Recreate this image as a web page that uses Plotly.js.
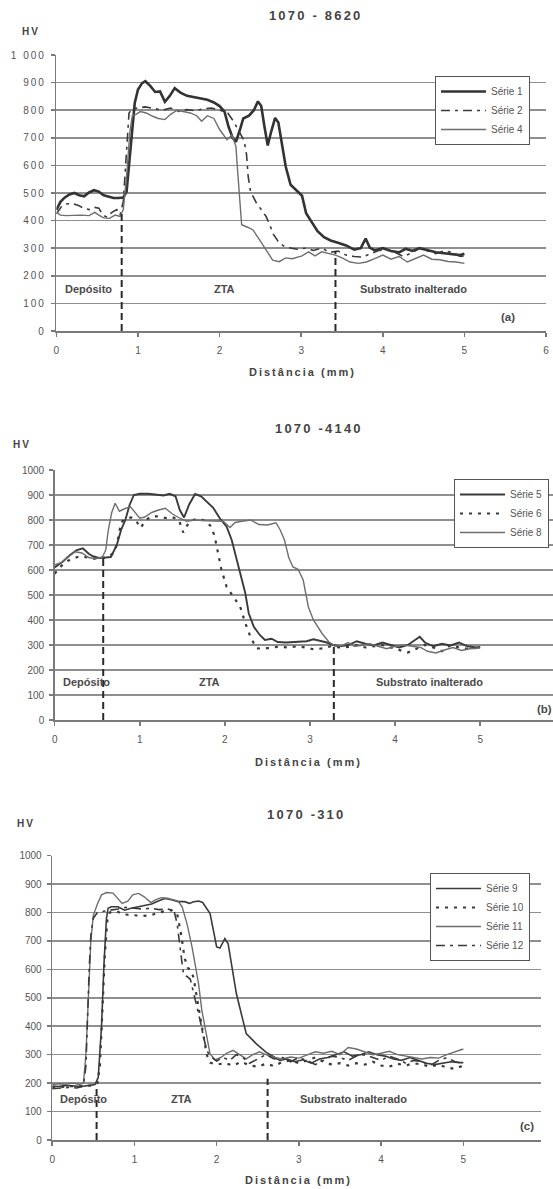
<!DOCTYPE html>
<html><head><meta charset="utf-8">
<script src="https://cdn.plot.ly/plotly-3.0.1.min.js"></script>
<style>
html,body{margin:0;padding:0;overflow:hidden;background:#fff;}
#chart{width:566px;height:1189px;}
.ytick text{letter-spacing:2px;}
</style></head><body><div id="chart"></div>
<script>
// ---------- (a) 1070 - 8620 ----------
const s1x = [0,0.05,0.1,0.16,0.22, 0.28,0.34,0.4,0.46,0.52, 0.58,0.64,0.7,0.76,0.82, 0.86,0.89,0.92,0.96,1.0, 1.05,1.09,1.15,1.21,1.27, 1.33,1.39,1.45,1.52,1.6, 1.68,1.76,1.85,1.93,2.0, 2.06,2.11,2.16,2.2,2.25, 2.29,2.36,2.42,2.47,2.51, 2.55,2.59,2.63,2.68,2.72, 2.77,2.81,2.87,2.95,3.01, 3.06,3.13,3.2,3.28,3.36, 3.45,3.55,3.65,3.73,3.79, 3.84,3.9,4.0,4.1,4.2, 4.28,4.36,4.45,4.55,4.65, 4.75,4.85,4.95,5.0];
const s1y = [439,468,483,495,500, 492,488,502,510,505, 492,486,482,482,484, 505,600,720,826,875, 898,905,888,866,868, 830,852,880,864,852, 848,842,838,828,815, 795,740,700,685,730, 770,780,800,832,815, 740,672,720,772,755, 660,596,530,505,490, 427,395,362,340,328, 320,310,295,300,335, 302,292,300,290,285, 298,290,300,292,285, 282,278,275,280];
const s2x = [0,0.06,0.12,0.2,0.27, 0.33,0.4,0.47,0.52,0.57, 0.62,0.68,0.74,0.78,0.82, 0.86,0.89,0.93,1.0,1.09, 1.2,1.3,1.4,1.5,1.6, 1.7,1.8,1.9,2.0,2.1, 2.17,2.24,2.3,2.33,2.35, 2.38,2.45,2.51,2.57,2.62, 2.66,2.73,2.8,2.88,2.95, 3.05,3.15,3.25,3.35,3.45, 3.55,3.65,3.75,3.85,3.95, 4.05,4.15,4.25,4.35,4.45, 4.55,4.65,4.75,4.85,4.95, 5.0];
const s2y = [425,450,460,462,455, 445,440,448,445,420, 412,430,440,420,470, 640,790,805,808,812, 806,800,808,796,802, 798,805,808,800,790, 760,720,690,640,560, 505,464,440,415,380, 350,319,305,300,296, 300,292,300,285,290, 275,270,268,280,292, 295,285,270,282,300, 290,280,290,285,270, 272];
const s4x = [0,0.05,0.12,0.2,0.3, 0.4,0.47,0.52,0.58,0.65, 0.72,0.78,0.82,0.86,0.9, 0.93,0.97,1.03,1.1,1.18, 1.25,1.33,1.4,1.48,1.56, 1.64,1.72,1.78,1.85,1.93, 2.0,2.09,2.15,2.2,2.22, 2.25,2.27,2.35,2.41,2.49, 2.57,2.65,2.73,2.81,2.89, 3.01,3.09,3.17,3.25,3.33, 3.42,3.5,3.6,3.7,3.8, 3.9,4.0,4.1,4.2,4.3, 4.4,4.5,4.6,4.7,4.8, 4.9,5.0];
const s4y = [430,420,418,420,420, 418,430,420,410,408, 420,415,440,560,720, 780,784,795,790,778, 770,766,785,800,795, 790,780,760,780,770, 730,693,710,669,584, 463,385,375,366,330, 293,257,251,265,262, 272,287,272,287,282, 275,265,250,245,250, 262,275,260,270,250, 262,275,260,258,252, 250,245];

// ---------- (b) 1070 - 4140 ----------
const s5x = [0,0.1,0.18,0.26,0.33, 0.4,0.45,0.52,0.6,0.66, 0.73,0.78,0.83,0.88,0.93, 1.0,1.1,1.2,1.28,1.35, 1.42,1.47,1.52,1.58,1.65, 1.72,1.8,1.86,1.94,2.02, 2.08,2.14,2.19,2.24,2.28, 2.34,2.41,2.47,2.55,2.62, 2.72,2.85,2.96,3.04,3.12, 3.2,3.27,3.35,3.45,3.55, 3.65,3.75,3.85,3.95,4.05, 4.15,4.22,4.29,4.35,4.45, 4.55,4.65,4.75,4.85,4.95, 5.0];
const s5y = [610,635,660,680,687, 665,655,648,650,652, 700,760,800,860,900, 905,905,900,898,905, 895,840,810,862,904, 895,870,850,807,773, 720,640,573,507,427, 373,340,320,325,312, 310,312,315,323,318, 310,300,295,300,315, 305,298,310,300,290, 300,315,333,310,295, 305,298,310,295,290, 292];
const s6x = [0,0.06,0.12,0.2,0.3, 0.38,0.46,0.55,0.62,0.68, 0.73,0.78,0.83,0.9,0.96, 1.01,1.06,1.12,1.2,1.3, 1.38,1.46,1.51,1.56,1.62, 1.7,1.78,1.84,1.88,1.92, 1.96,2.02,2.1,2.18,2.24, 2.3,2.37,2.45,2.55,2.65, 2.75,2.85,2.95,3.05,3.15, 3.25,3.35,3.45,3.55,3.65, 3.75,3.85,3.95,4.05,4.15, 4.25,4.35,4.45,4.55,4.65, 4.75,4.85,5.0];
const s6y = [585,610,630,645,655, 650,645,648,650,665, 700,790,805,810,795, 768,795,812,815,808, 812,800,750,780,800, 805,795,773,733,667, 600,533,493,453,387, 333,287,285,290,293, 290,295,290,282,287, 295,290,292,300,290, 295,300,290,280,270, 285,300,290,275,300, 290,285,290];
const s8x = [0,0.08,0.15,0.24,0.32, 0.4,0.48,0.56,0.6,0.63, 0.67,0.71,0.76,0.82,0.89, 0.95,1.0,1.06,1.14,1.22, 1.3,1.38,1.47,1.55,1.65, 1.79,1.9,1.98,2.06,2.12, 2.2,2.3,2.4,2.5,2.6, 2.65,2.7,2.75,2.8,2.86, 2.92,2.98,3.04,3.14,3.22, 3.3,3.38,3.45,3.52,3.6, 3.7,3.8,3.9,4.0,4.1, 4.2,4.3,4.38,4.48,4.58, 4.68,4.78,4.88,5.0];
const s8y = [620,630,650,673,668, 650,645,652,680,760, 830,867,835,845,853, 830,807,812,830,840, 847,825,807,795,800, 797,797,795,770,790, 795,800,782,780,789, 760,720,650,612,603, 560,453,400,347,313, 295,298,310,295,298, 305,295,285,295,300, 295,290,275,268,280, 290,278,285,288];

// ---------- (c) 1070 - 310 ----------
const s9x = [0,0.08,0.16,0.25,0.35, 0.45,0.52,0.56,0.6,0.63, 0.66,0.68,0.72,0.8,0.88, 0.96,1.05,1.13,1.21,1.29, 1.37,1.45,1.53,1.61,1.67, 1.72,1.78,1.83,1.88,1.92, 1.96,2.0,2.04,2.1,2.14, 2.18,2.24,2.3,2.36,2.48, 2.6,2.7,2.77,2.85,2.95, 3.05,3.15,3.25,3.35,3.45, 3.55,3.65,3.75,3.85,3.95, 4.05,4.15,4.25,4.35,4.45, 4.55,4.65,4.75,4.85,4.95, 5.0];
const s9y = [190,188,192,190,188, 192,195,220,400,620, 780,815,820,820,808, 815,820,826,830,840, 849,845,838,838,832, 838,840,835,815,796, 738,679,675,708,690, 620,515,444,374,339, 309,292,280,285,275, 282,270,285,290,300, 310,295,300,310,300, 295,285,280,290,280, 270,265,270,275,272, 272];
const s10x = [0,0.1,0.2,0.3,0.4, 0.5,0.55,0.58,0.61,0.64, 0.67,0.7,0.78,0.85,0.92, 1.0,1.1,1.2,1.3,1.38, 1.45,1.52,1.57,1.61,1.65, 1.69,1.72,1.76,1.8,1.84, 1.88,1.92,2.0,2.1,2.2, 2.3,2.4,2.5,2.6,2.7, 2.8,2.9,3.0,3.1,3.2, 3.3,3.4,3.5,3.6,3.7, 3.8,3.9,4.0,4.1,4.2, 4.3,4.4,4.5,4.6,4.7, 4.8,4.9,5.0];
const s10y = [185,185,190,188,190, 192,200,260,450,650, 770,800,805,795,792, 790,788,790,800,805, 808,795,720,640,605, 595,570,500,430,360, 300,272,265,270,262, 275,262,258,268,260, 275,280,270,280,290, 275,265,270,262,270, 265,275,262,258,268, 262,270,265,258,265, 255,250,262];
const s11x = [0,0.08,0.16,0.25,0.33, 0.38,0.41,0.44,0.47,0.5, 0.55,0.6,0.66,0.74,0.8, 0.85,0.92,0.98,1.05,1.12, 1.2,1.26,1.33,1.4,1.47, 1.53,1.58,1.64,1.7,1.74, 1.78,1.82,1.88,1.92,1.98, 2.05,2.12,2.2,2.28,2.36, 2.44,2.52,2.6,2.7,2.8, 2.9,3.0,3.1,3.2,3.3, 3.4,3.5,3.6,3.7,3.8, 3.9,4.0,4.1,4.2,4.3, 4.4,4.5,4.6,4.7,4.8, 4.9,5.0];
const s11y = [195,198,196,200,195, 200,300,520,700,790, 830,862,870,868,850, 832,840,862,867,855, 835,845,852,850,845, 840,820,760,680,620, 550,456,362,303,282, 290,305,315,300,285, 300,310,300,290,285, 292,288,300,310,305, 312,300,325,320,310, 300,305,312,300,295, 290,285,290,288,300, 310,320];
const s12x = [0,0.1,0.2,0.3,0.38, 0.41,0.43,0.45,0.47,0.5, 0.55,0.62,0.7,0.8,0.9, 1.0,1.1,1.2,1.3,1.4, 1.48,1.52,1.55,1.58,1.6, 1.64,1.68,1.72,1.76,1.8, 1.84,1.88,1.92,2.0,2.08, 2.16,2.24,2.32,2.4,2.5, 2.6,2.7,2.8,2.9,3.0, 3.1,3.2,3.3,3.4,3.5, 3.6,3.7,3.8,3.9,4.0, 4.1,4.2,4.3,4.4,4.5, 4.6,4.7,4.8,4.9,5.0];
const s12y = [180,182,185,183,190, 260,450,600,720,780, 800,805,808,812,818, 815,812,815,810,812, 808,760,680,620,580, 575,565,520,470,420, 362,315,295,278,290, 280,300,290,270,285, 300,285,290,275,290, 280,265,280,295,290, 280,295,300,290,280, 295,285,270,280,275, 262,280,290,275,270];

// zone boundaries (mm) and the hardness where each dashed line stops
const bndA = [0.8, 3.42], bndTopA = [425, 290];
const bndB = [0.57, 3.28], bndTopB = [645, 300];
const bndC = [0.54, 2.62], bndTopC = [190, 215];

// tick labels / text
const yTicks = [0,100,200,300,400,500,600,700,800,900,1000];
const yTickTextA = ['0','100','200','300','400','500','600','700','800','900','1 000'];
const yTickTextBC = ['0','100','200','300','400','500','600','700','800','900','1000'];
const xTicksAB = [0,1,2,3,4,5,6];
const xTicksB = [0,1,2,3,4,5];
const xTicksC = [0,1,2,3,4,5];
const titles = ['1070 - 8620', '1070 -4140', '1070 -310'];
const zoneLabels = ['Depósito', 'ZTA', 'Substrato inalterado'];
const panelTags = ['(a)', '(b)', '(c)'];
const xTitle = 'Distância (mm)';
const yTitle = 'HV';

// ---------- drawing ----------
const W = 566, H = 1189;
const FONT = 'Liberation Sans, Arial, sans-serif';
const GRID = '#8f8f8f', AXIS = '#7a7a7a', TXT = '#555';
const px = v => v / W, py = v => 1 - v / H;

function tr(name, x, y, xa, ya, lg, line) {
  return {type: 'scatter', mode: 'lines', name, x, y, xaxis: xa, yaxis: ya, legend: lg, line: Object.assign({shape: 'linear'}, line), hoverinfo: 'skip'};
}
const solidThick = {color: '#333', width: 2.6};
const solid = {color: '#3a3a3a', width: 1.6};
const thinGray = {color: '#6e6e6e', width: 1.4};
const dashDot = {color: '#3a3a3a', width: 1.6, dash: '9px,5px,3px,5px'};
const dotted = {color: '#3a3a3a', width: 2.2, dash: '3px,6px'};

const traces = [
  tr('Série 1', s1x, s1y, 'x', 'y', 'legend', solidThick),
  tr('Série 2', s2x, s2y, 'x', 'y', 'legend', dashDot),
  tr('Série 4', s4x, s4y, 'x', 'y', 'legend', thinGray),
  tr('Série 5', s5x, s5y, 'x2', 'y2', 'legend2', Object.assign({}, solid, {width: 1.9})),
  tr('Série 6', s6x, s6y, 'x2', 'y2', 'legend2', dotted),
  tr('Série 8', s8x, s8y, 'x2', 'y2', 'legend2', thinGray),
  tr('Série 9', s9x, s9y, 'x3', 'y3', 'legend3', solid),
  tr('Série 10', s10x, s10y, 'x3', 'y3', 'legend3', dotted),
  tr('Série 11', s11x, s11y, 'x3', 'y3', 'legend3', thinGray),
  tr('Série 12', s12x, s12y, 'x3', 'y3', 'legend3', dashDot)
];
function bounds(xs, tops, xa, ya) {
  xs.forEach((b, i) => traces.push({type: 'scatter', mode: 'lines', x: [b, b], y: [0, tops[i]], xaxis: xa, yaxis: ya,
    showlegend: false, hoverinfo: 'skip', line: {color: '#2a2a2a', width: 2, dash: '7px,4px'}}));
}
bounds(bndA, bndTopA, 'x', 'y');
bounds(bndB, bndTopB, 'x2', 'y2');
bounds(bndC, bndTopC, 'x3', 'y3');

function xAx(domain, range, anchor, ticks) {
  return {domain, range, anchor, tickvals: ticks, showgrid: false, zeroline: false, showline: true,
    linecolor: AXIS, linewidth: 1.5, ticks: 'outside', ticklen: 4, tickcolor: AXIS, tickwidth: 1.5,
    ticklabelstandoff: 5, tickfont: {family: FONT, size: 10, color: TXT}, fixedrange: true};
}
function yAx(domain, anchor, text) {
  return {domain, range: [0, 1000], anchor, tickvals: yTicks, ticktext: text, showgrid: true,
    gridcolor: GRID, gridwidth: 1.6, zeroline: false, showline: true, linecolor: AXIS, linewidth: 1.5,
    ticks: 'outside', ticklen: 4, tickcolor: AXIS, tickwidth: 1.5, ticklabelstandoff: 3,
    tickfont: {family: FONT, size: 10, color: TXT}, fixedrange: true};
}
function lg(x, y) {
  return {x: px(x), y: py(y), xanchor: 'left', yanchor: 'top', bgcolor: '#fff', bordercolor: '#555',
    borderwidth: 1, font: {family: FONT, size: 10, color: TXT}, itemwidth: 45, tracegroupgap: 0};
}

const ann = [];
function paperText(text, x, y, size, bold, color) {
  ann.push({text: bold ? '<b>' + text + '</b>' : text, xref: 'paper', yref: 'paper', x: px(x), y: py(y),
    xanchor: 'center', yanchor: 'middle', showarrow: false, font: {family: FONT, size, color}});
}
function dataText(text, x, y, xa, ya, size) {
  ann.push({text: '<b>' + text + '</b>', xref: xa, yref: ya, x, y, xanchor: 'center', yanchor: 'middle',
    showarrow: false, font: {family: FONT, size, color: '#4a4a4a'}});
}
// titles, HV, axis titles
paperText(titles[0], 315, 15, 13, true, '#444');
paperText(titles[1], 319, 428, 13, true, '#444');
paperText(titles[2], 306, 814, 13, true, '#444');
paperText(yTitle, 31, 32, 10, true, '#444');
paperText(yTitle, 22, 445, 10, true, '#444');
paperText(yTitle, 26, 823, 10, true, '#444');
paperText(xTitle, 302, 372, 11, true, '#444');
paperText(xTitle, 308, 762, 11, true, '#444');
paperText(xTitle, 298, 1180, 11, true, '#444');
// zone labels
const zoneX = [[0.39, 2.06, 4.38], [0.37, 1.82, 4.40], [0.38, 1.57, 3.66]];
const zoneY = [152, 151, 144];
const tagPos = [[5.53, 52], [5.76, 45], [5.77, 50]];
const axPairs = [['x', 'y'], ['x2', 'y2'], ['x3', 'y3']];
axPairs.forEach((p, i) => {
  zoneLabels.forEach((z, j) => dataText(z, zoneX[i][j], zoneY[i], p[0], p[1], 11));
  dataText(panelTags[i], tagPos[i][0], tagPos[i][1], p[0], p[1], 11.5);
});

const layout = {
  width: W, height: H, margin: {l: 0, r: 0, t: 0, b: 0, autoexpand: false},
  paper_bgcolor: '#fff', plot_bgcolor: '#fff', font: {family: FONT, color: TXT},
  xaxis: xAx([px(56.4), px(546)], [0, 6], 'y', xTicksAB),
  yaxis: yAx([py(331), py(55)], 'x', yTickTextA),
  xaxis2: xAx([px(54.7), px(565.3)], [0, 6], 'y2', xTicksB),
  yaxis2: yAx([py(720), py(470)], 'x2', yTickTextBC),
  xaxis3: xAx([px(52.2), px(541.4)], [0, 5.95], 'y3', xTicksC),
  yaxis3: yAx([py(1140), py(855.6)], 'x3', yTickTextBC),
  legend: lg(435, 76), legend2: lg(454, 479), legend3: lg(430, 873),
  annotations: ann, showlegend: true
};

Plotly.newPlot('chart', traces, layout, {staticPlot: true, displayModeBar: false}).then(gd => {
  gd.querySelectorAll('.annotation-text').forEach(t => {
    const s = t.textContent;
    if (s.indexOf('1070') === 0) t.style.letterSpacing = '2.2px';
    else if (s.indexOf('Dist') === 0 || s === 'HV') t.style.letterSpacing = '2px';
  });
});
</script></body></html>
